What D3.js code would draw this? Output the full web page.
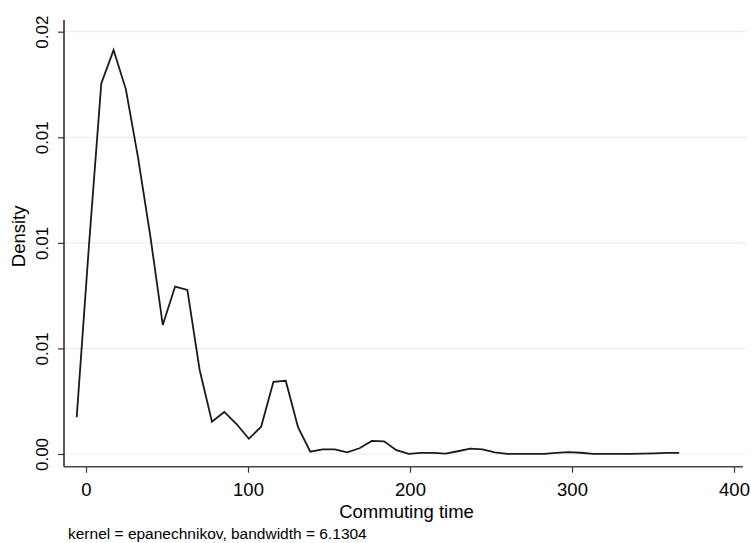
<!DOCTYPE html>
<html>
<head>
<meta charset="utf-8">
<script src="https://cdn.jsdelivr.net/npm/d3@7"></script>
<style>
    body { margin: 0; background: #fff; }
    text { font-family: "Liberation Sans", Arial, sans-serif; fill: #000; }
</style>
</head>
<body>
<div id="chart"></div>
<script>
// Kernel density estimate (50 evaluation points).
var commuteTime = [-5.74, 1.85, 9.44, 17.03, 24.62, 32.21, 39.80, 47.39, 54.98, 62.57,
    70.16, 77.75, 85.34, 92.93, 100.52, 108.11, 115.70, 123.29, 130.88, 138.47,
    146.06, 153.65, 161.24, 168.83, 176.42, 184.01, 191.60, 199.19, 206.78, 214.37,
    221.96, 229.55, 237.14, 244.73, 252.32, 259.91, 267.50, 275.09, 282.68, 290.27,
    297.86, 305.45, 313.04, 320.63, 328.22, 335.81, 343.40, 350.99, 358.58, 366.17];
var density = [0.00174, 0.00990, 0.01755, 0.01913, 0.01727, 0.01400, 0.01027, 0.00611, 0.00793, 0.00777,
    0.00398, 0.00153, 0.00199, 0.00142, 0.00072, 0.00129, 0.00342, 0.00347, 0.00127, 0.00011,
    0.00022, 0.00022, 0.00008, 0.00027, 0.00062, 0.00060, 0.00018, 0.00001, 0.00005, 0.00005,
    0.00002, 0.00013, 0.00025, 0.00022, 0.00008, 0.00001, 0.00001, 0.00001, 0.00001, 0.00005,
    0.00009, 0.00006, 0.00001, 0.00001, 0.00001, 0.00001, 0.00002, 0.00003, 0.00005, 0.00005];

var xTicks = [0, 100, 200, 300, 400];
var yTicks = [0, 0.005, 0.01, 0.015, 0.02];
var yTickLabels = ["0.00", "0.01", "0.01", "0.01", "0.02"];

var width = 751, height = 543;
// plot region edges
var p = { l: 64, r: 743, t: 20, b: 466.7 };

var x = d3.scaleLinear().domain([0, 400]).range([86, 734]);
var y = d3.scaleLinear().domain([0, 0.02]).range([454, 31.7]);

var svg = d3.select("#chart").append("svg")
    .attr("width", width)
    .attr("height", height);

// Grid lines
svg.append("g").selectAll("line")
    .data(yTicks)
    .enter().append("line")
    .attr("x1", p.l).attr("x2", p.r + 3)
    .attr("y1", function(d) { return y(d); })
    .attr("y2", function(d) { return y(d); })
    .style("stroke", "#e6eff2")
    .style("stroke-width", 1.2);

// Y axis
var yAxis = svg.append("g")
    .attr("transform", "translate(" + p.l + ",0)")
    .call(d3.axisLeft(y).tickValues(yTicks).tickSize(6).tickFormat(function(d, i) { return yTickLabels[i]; }));
yAxis.select(".domain").remove();
yAxis.selectAll(".tick line").style("stroke", "#333").style("stroke-width", 1.2);
yAxis.selectAll(".tick text")
    .attr("x", 0).attr("y", 0).attr("dy", null).attr("dx", null)
    .attr("text-anchor", "middle")
    .attr("transform", "translate(-16,0) rotate(-90)")
    .style("font-size", "17px");
yAxis.append("line")
    .attr("x1", 0).attr("x2", 0)
    .attr("y1", p.t).attr("y2", p.b)
    .style("stroke", "#222").style("stroke-width", 1.5);

// X axis
var xAxis = svg.append("g")
    .attr("transform", "translate(0," + p.b + ")")
    .call(d3.axisBottom(x).tickValues(xTicks).tickSize(6).tickFormat(d3.format("d")));
xAxis.select(".domain").remove();
xAxis.selectAll(".tick line").style("stroke", "#333").style("stroke-width", 1.2);
xAxis.selectAll(".tick text")
    .attr("y", 29.5).attr("dy", null)
    .style("font-size", "18.5px");
xAxis.append("line")
    .attr("x1", p.l).attr("x2", p.r)
    .attr("y1", 0).attr("y2", 0)
    .style("stroke", "#444").style("stroke-width", 1.5);

// Density curve
var pts = commuteTime.map(function(d, i) { return [d, density[i]]; });
svg.append("path")
    .datum(pts)
    .attr("d", d3.line()
        .x(function(d) { return x(d[0]); })
        .y(function(d) { return y(d[1]); }))
    .style("fill", "none")
    .style("stroke", "#1a1a1a")
    .style("stroke-width", 1.8)
    .style("stroke-linejoin", "miter");

// Titles
svg.append("text")
    .attr("transform", "translate(25," + ((p.t + p.b) / 2 - 7) + ") rotate(-90)")
    .attr("text-anchor", "middle")
    .style("font-size", "18.5px")
    .text("Density");

svg.append("text")
    .attr("x", (p.l + p.r) / 2 + 3)
    .attr("y", 518)
    .attr("text-anchor", "middle")
    .style("font-size", "18.5px")
    .text("Commuting time");

svg.append("text")
    .attr("x", 68)
    .attr("y", 538.5)
    .style("font-size", "15.5px")
    .text("kernel = epanechnikov, bandwidth = 6.1304");
</script>
</body>
</html>
